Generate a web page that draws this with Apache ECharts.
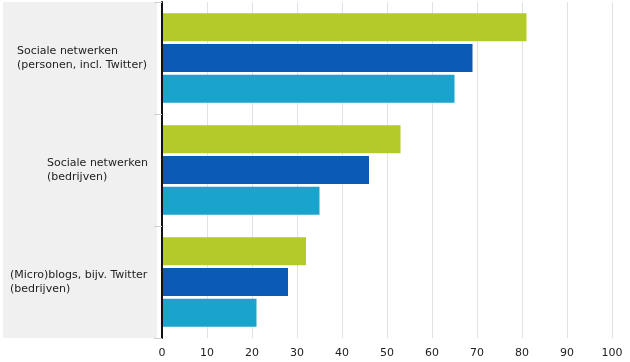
<!DOCTYPE html>
<html>
<head>
<meta charset="utf-8">
<script src="https://cdn.jsdelivr.net/npm/echarts@6/dist/echarts.min.js"></script>
<style>html,body{margin:0;padding:0;background:#fff}#c{width:630px;height:362px}</style>
</head>
<body>
<div id="c"></div>
<script>
var categories = ['Sociale netwerken\n(personen, incl. Twitter)', 'Sociale netwerken\n(bedrijven)', '(Micro)blogs, bijv. Twitter\n(bedrijven)'];
var series1 = [81, 53, 32];
var series2 = [69, 46, 28];
var series3 = [65, 35, 21];
var xTicks = [0, 10, 20, 30, 40, 50, 60, 70, 80, 90, 100];

var FONT = '11px "DejaVu Sans"';
var ctx = document.createElement('canvas').getContext('2d');
ctx.font = FONT;
var rich = {};
categories.forEach(function (c, i) {
  var w = 0;
  c.split('\n').forEach(function (l) { w = Math.max(w, ctx.measureText(l).width); });
  rich['c' + i] = { width: Math.ceil(w), align: 'left', fontFamily: 'DejaVu Sans', fontSize: 11, color: '#222', lineHeight: 14 };
});

var chart = echarts.init(document.getElementById('c'));
chart.setOption({
  animation: false,
  graphic: [{ type: 'rect', z: -1, shape: { x: 3, y: 2, width: 154, height: 336 }, style: { fill: '#f0f0f0' } }],
  grid: { left: 162, right: 18, top: 2, bottom: 24, containLabel: false },
  xAxis: {
    type: 'value', min: 0, max: 100, interval: 10,
    axisLine: { show: false }, axisTick: { show: false },
    splitLine: { lineStyle: { color: '#e2e2e2', width: 1 } },
    axisLabel: { fontFamily: 'DejaVu Sans', fontSize: 11, color: '#222', margin: 10,
      formatter: function (v) { return xTicks.indexOf(v) >= 0 ? String(v) : ''; } }
  },
  yAxis: {
    type: 'category', data: categories, inverse: true, z: 5,
    axisLine: { show: true, lineStyle: { color: '#111', width: 2 } },
    axisTick: { show: true, length: 8, lineStyle: { color: '#cfcfcf' } },
    axisLabel: {
      align: 'right', margin: 14, rich: rich,
      formatter: function (v, idx) {
        return v.split('\n').map(function (l) { return '{c' + idx + '|' + l + '}'; }).join('\n');
      }
    }
  },
  series: [
    { name: 'Serie 1', type: 'bar', data: series1, barWidth: 28, barGap: '10%', itemStyle: { color: '#b3ca29' } },
    { name: 'Serie 2', type: 'bar', data: series2, barWidth: 28, barGap: '10%', itemStyle: { color: '#0b5ab4' } },
    { name: 'Serie 3', type: 'bar', data: series3, barWidth: 28, barGap: '10%', itemStyle: { color: '#1aa3cc' } }
  ]
});
</script>
</body>
</html>
